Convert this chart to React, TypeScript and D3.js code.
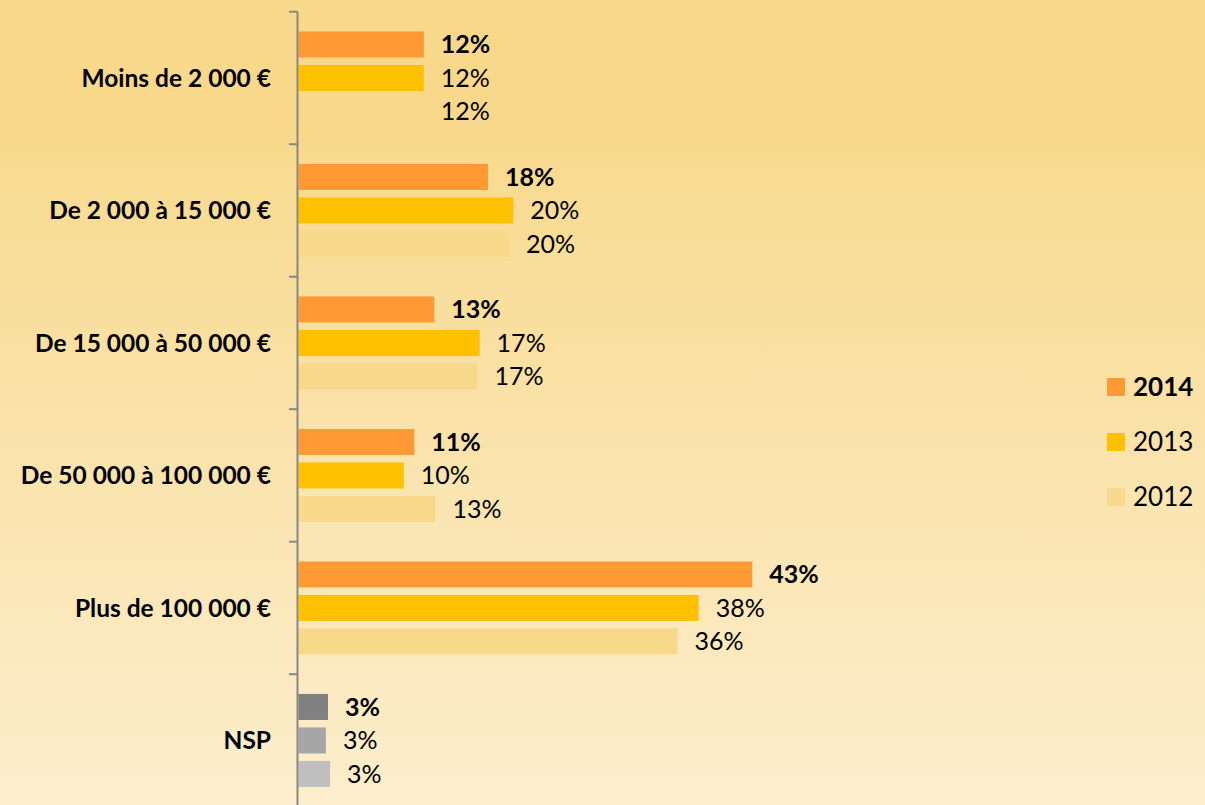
import React from "react";
import * as d3 from "d3";

const categories = [
  "Moins de 2 000 €",
  "De 2 000 à 15 000 €",
  "De 15 000 à 50 000 €",
  "De 50 000 à 100 000 €",
  "Plus de 100 000 €",
  "NSP",
];
const seriesNames = ["2014", "2013", "2012"];
const values2014 = [11.9, 18.0, 12.9, 11.0, 43.1, 2.8];
const values2013 = [11.9, 20.4, 17.2, 10.0, 38.0, 2.6];
const values2012 = [11.9, 20.0, 17.0, 13.0, 36.0, 3.0];
const seriesColors = ["#FF9933", "#FFC000", "#F8D98C"];
const nspColors = ["#808080", "#A6A6A6", "#BFBFBF"];

const W = 1205;
const H = 805;
const FONT = "Lato, 'Open Sans', sans-serif";

export default function App() {
  const series = [values2014, values2013, values2012];
  const x = d3.scaleLinear().domain([0, 50]).range([298.5, 298.5 + 526.5]);
  const y = d3.scaleBand<string>().domain(categories).range([11.7, 11.7 + 132.5 * 6]).paddingInner(0).paddingOuter(0);
  const yInner = d3.scaleBand<string>().domain(seriesNames).range([19.75, 112.75]).paddingInner(0.224).paddingOuter(0);

  const axisX = 297.5;
  const tickYs = categories.map((c) => y(c)!);

  return (
    <svg width={W} height={H} style={{ position: "absolute", left: 0, top: 0 }} fontFamily={FONT}>
      <defs>
        <linearGradient id="bg" x1="0" y1="0" x2="0" y2="1">
          <stop offset="0" stopColor="#F8D88A" />
          <stop offset="0.15" stopColor="#F8D98C" />
          <stop offset="1" stopColor="#FCEECD" />
        </linearGradient>
      </defs>
      <rect x={0} y={0} width={W} height={H} fill="url(#bg)" />

      {categories.map((cat, ci) =>
        series.map((vals, si) => {
          const isNsp = cat === "NSP";
          const yy = y(cat)! + yInner(seriesNames[si])!;
          const bw = yInner.bandwidth();
          const x1 = x(vals[ci]);
          return (
            <g key={cat + si}>
              <rect
                x={x(0)}
                y={yy}
                width={x1 - x(0)}
                height={bw}
                fill={isNsp ? nspColors[si] : seriesColors[si]}
              />
              <text
                x={x1 + 17}
                y={yy + bw / 2 + 0.36 * 25}
                fontSize={25}
                fontWeight={si === 0 ? 700 : 400}
                fill="#000"
              >
                {Math.round(vals[ci])}%
              </text>
            </g>
          );
        })
      )}

      <line x1={axisX} x2={axisX} y1={11.7} y2={H + 5} stroke="#878787" strokeWidth={2} />
      {tickYs.map((ty, i) => (
        <line key={i} x1={289} x2={axisX} y1={ty} y2={ty} stroke="#878787" strokeWidth={2} />
      ))}

      {categories.map((cat) => (
        <text
          key={cat}
          x={271}
          y={y(cat)! + y.bandwidth() / 2 + 0.36 * 24.5}
          textAnchor="end"
          fontSize={24.5}
          fontWeight={700}
          fill="#000"
        >
          {cat}
        </text>
      ))}

      {seriesNames.map((s, i) => (
        <g key={s}>
          <rect x={1107} y={378 + i * 55} width={18} height={18} fill={seriesColors[i]} />
          <text
            x={1133}
            y={387 + i * 55 + 0.36 * 26}
            fontSize={26}
            fontWeight={i === 0 ? 700 : 400}
            fill="#000"
          >
            {s}
          </text>
        </g>
      ))}
    </svg>
  );
}
